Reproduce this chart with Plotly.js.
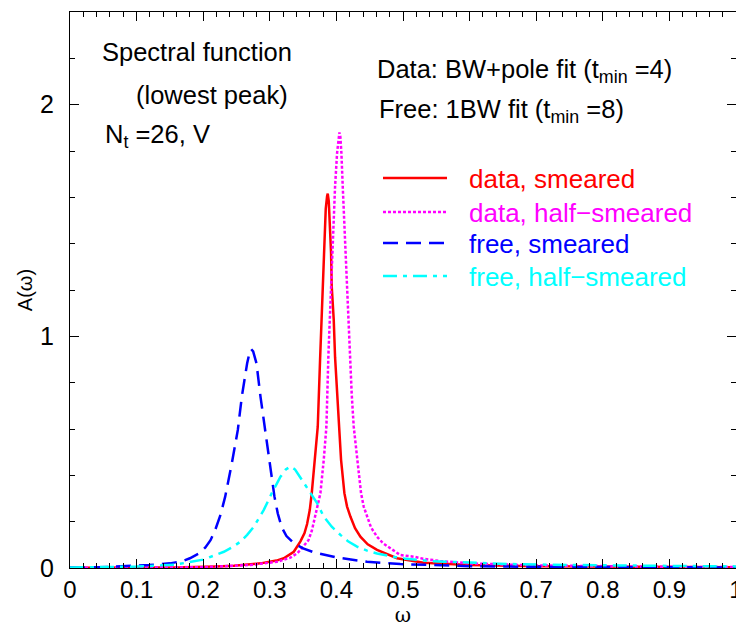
<!DOCTYPE html>
<html>
<head>
<meta charset="utf-8">
<script src="https://cdn.plot.ly/plotly-3.0.1.min.js"></script>
<style>html,body{margin:0;padding:0;background:#fff;}#chart{width:736px;height:627px;}</style>
</head>
<body>
<div id="chart"></div>
<script>
// ---- data ----
const redX = [0, 0.1, 0.17, 0.22, 0.246, 0.286, 0.31, 0.321, 0.336, 0.346, 0.352, 0.356, 0.360, 0.363, 0.368, 0.372, 0.3755, 0.378, 0.380, 0.382, 0.384, 0.386, 0.387, 0.3885, 0.390, 0.392, 0.393, 0.396, 0.398, 0.401, 0.404, 0.407, 0.412, 0.416, 0.421, 0.428, 0.436, 0.447, 0.461, 0.491, 0.531, 0.566, 0.6, 0.7, 0.8, 0.9, 1.0];
const redY = [0.001, 0.002, 0.003, 0.007, 0.010, 0.020, 0.032, 0.042, 0.070, 0.115, 0.150, 0.190, 0.250, 0.323, 0.467, 0.610, 0.900, 1.100, 1.280, 1.430, 1.550, 1.605, 1.616, 1.585, 1.503, 1.359, 1.215, 1.071, 0.910, 0.750, 0.610, 0.467, 0.323, 0.265, 0.222, 0.172, 0.135, 0.102, 0.078, 0.042, 0.023, 0.017, 0.013, 0.008, 0.006, 0.004, 0.003];

const magX = [0, 0.1, 0.2, 0.271, 0.311, 0.331, 0.341, 0.346, 0.352, 0.358, 0.363, 0.368, 0.372, 0.376, 0.381, 0.385, 0.388, 0.390, 0.392, 0.394, 0.396, 0.398, 0.401, 0.403, 0.4045, 0.406, 0.4075, 0.4095, 0.4115, 0.4135, 0.4155, 0.4175, 0.420, 0.423, 0.426, 0.431, 0.437, 0.441, 0.446, 0.452, 0.461, 0.470, 0.481, 0.496, 0.516, 0.530, 0.556, 0.571, 0.6, 0.7, 0.8, 0.9, 1.0];
const magY = [0.0005, 0.001, 0.003, 0.013, 0.027, 0.045, 0.063, 0.078, 0.098, 0.120, 0.160, 0.222, 0.270, 0.323, 0.467, 0.610, 0.920, 1.071, 1.215, 1.359, 1.503, 1.647, 1.791, 1.860, 1.880, 1.860, 1.791, 1.647, 1.503, 1.359, 1.215, 1.071, 0.915, 0.750, 0.610, 0.467, 0.323, 0.265, 0.222, 0.175, 0.135, 0.107, 0.085, 0.056, 0.049, 0.040, 0.030, 0.027, 0.020, 0.011, 0.007, 0.005, 0.004];

const blueX = [0, 0.044, 0.119, 0.15, 0.169, 0.18, 0.194, 0.203, 0.211, 0.218, 0.226, 0.233, 0.243, 0.252, 0.258, 0.266, 0.270, 0.272, 0.275, 0.280, 0.286, 0.293, 0.300, 0.307, 0.312, 0.318, 0.325, 0.336, 0.350, 0.366, 0.401, 0.446, 0.496, 0.556, 0.6, 0.7, 0.8, 0.9, 1.0];
const blueY = [0.002, 0.003, 0.013, 0.020, 0.030, 0.042, 0.063, 0.088, 0.120, 0.164, 0.230, 0.308, 0.452, 0.596, 0.740, 0.884, 0.935, 0.945, 0.935, 0.884, 0.740, 0.596, 0.452, 0.308, 0.235, 0.175, 0.138, 0.107, 0.085, 0.068, 0.045, 0.027, 0.017, 0.010, 0.008, 0.005, 0.004, 0.003, 0.002];

const cyanX = [0, 0.1, 0.159, 0.2, 0.231, 0.245, 0.256, 0.266, 0.276, 0.291, 0.303, 0.316, 0.324, 0.331, 0.338, 0.346, 0.358, 0.371, 0.381, 0.393, 0.406, 0.418, 0.431, 0.446, 0.461, 0.496, 0.541, 0.596, 0.662, 0.722, 0.797, 0.897, 1.0];
const cyanY = [0.002, 0.006, 0.015, 0.036, 0.070, 0.092, 0.114, 0.143, 0.178, 0.251, 0.323, 0.394, 0.425, 0.438, 0.425, 0.390, 0.340, 0.280, 0.222, 0.178, 0.143, 0.114, 0.092, 0.075, 0.063, 0.042, 0.030, 0.023, 0.017, 0.014, 0.011, 0.009, 0.007];

const seriesNames = ['data, smeared', 'data, half\u2212smeared', 'free, smeared', 'free, half\u2212smeared'];
const seriesColors = ['#ff0000', '#ff00ff', '#0000ff', '#00ffff'];
const seriesDash = ['solid', '3px,2px', '15px,8px', '14px,6px,4px,6px'];

// ---- figure ----
const xs = [redX, magX, blueX, cyanX];
const ys = [redY, magY, blueY, cyanY];
const traces = xs.map((x, i) => ({
  x: x, y: ys[i], type: 'scatter', mode: 'lines', name: seriesNames[i],
  line: {color: seriesColors[i], width: 2.5, dash: seriesDash[i], shape: 'linear'},
  showlegend: false, hoverinfo: 'skip'
}));

const W = 736, H = 627, ML = 70, MR = 0, MT = 12, MB = 59;
const pw = W - ML - MR, ph = H - MT - MB;
const px = v => (v - ML) / pw;
const py = v => (H - MB - v) / ph;

const FONT = 'Liberation Sans, Arial, sans-serif';
const legendRowsY = [178, 212, 243, 276];
const shapes = [];
const annotations = [];
legendRowsY.forEach((yy, i) => {
  shapes.push({type: 'line', xref: 'paper', yref: 'paper', x0: px(383), x1: px(447), y0: py(yy), y1: py(yy),
    line: {color: seriesColors[i], width: 2.5, dash: seriesDash[i]}});
  annotations.push({xref: 'paper', yref: 'paper', x: px(467), y: py(yy + 1), xanchor: 'left', yanchor: 'middle',
    text: seriesNames[i], showarrow: false, font: {family: FONT, size: 26, color: seriesColors[i]}});
});
const txt = (t, x, y, anchor) => ({xref: 'paper', yref: 'paper', x: px(x), y: py(y), xanchor: anchor, yanchor: 'middle',
  text: t, showarrow: false, font: {family: FONT, size: 25.5, color: '#000'}});
annotations.push(txt('Spectral function', 197, 52, 'center'));
annotations.push(txt('(lowest peak)', 212, 95, 'center'));
annotations.push(txt('N<sub>t</sub> =26, V', 103, 136, 'left'));
annotations.push(txt('Data: BW+pole fit (t<sub>min</sub> =4)', 375, 71, 'left'));
annotations.push(txt('Free: 1BW fit (t<sub>min</sub> =8)', 377, 111, 'left'));

const layout = {
  width: W, height: H,
  margin: {l: ML, r: MR, t: MT, b: MB, pad: 0},
  paper_bgcolor: '#fff', plot_bgcolor: '#fff',
  showlegend: false,
  xaxis: {
    range: [0, 1], tickvals: [0, 0.1, 0.2, 0.3, 0.4, 0.5, 0.6, 0.7, 0.8, 0.9, 1],
    ticktext: ['0', '0.1', '0.2', '0.3', '0.4', '0.5', '0.6', '0.7', '0.8', '0.9', '1'],
    ticks: 'inside', ticklen: 9, tickwidth: 1, tickcolor: '#000',
    minor: {dtick: 0.02, tick0: 0, ticks: 'inside', ticklen: 5, tickwidth: 1, tickcolor: '#000'},
    showline: true, linecolor: '#000', linewidth: 1, mirror: 'ticks',
    showgrid: false, zeroline: false, automargin: false,
    ticklabeloverflow: 'allow', ticklabelstandoff: 0,
    tickfont: {family: FONT, size: 24, color: '#000'},
    title: {text: '\u03c9', font: {family: 'DejaVu Serif, serif', size: 20, color: '#000'}, standoff: 14}
  },
  yaxis: {
    range: [0, 2.4], tickvals: [0, 1, 2], ticktext: ['0', '1', '2'],
    ticks: 'inside', ticklen: 9, tickwidth: 1, tickcolor: '#000',
    minor: {dtick: 0.2, tick0: 0, ticks: 'inside', ticklen: 5, tickwidth: 1, tickcolor: '#000'},
    showline: true, linecolor: '#000', linewidth: 1, mirror: 'ticks',
    showgrid: false, zeroline: false, automargin: false,
    ticklabelstandoff: 10,
    tickfont: {family: FONT, size: 25, color: '#000'},
    title: {text: 'A(\u03c9)', font: {family: FONT, size: 20, color: '#000'}, standoff: 2}
  },
  shapes: shapes,
  annotations: annotations
};

Plotly.newPlot('chart', traces, layout, {staticPlot: true, displayModeBar: false});
</script>
</body>
</html>
